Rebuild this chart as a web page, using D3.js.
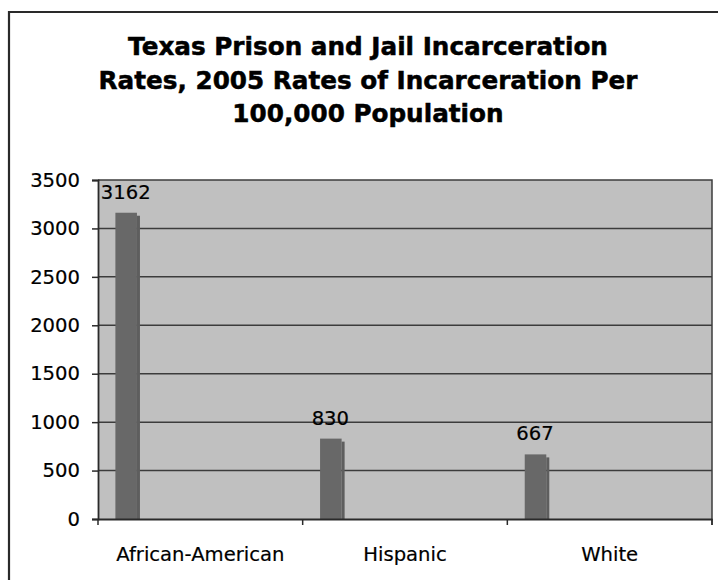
<!DOCTYPE html>
<html>
<head>
<meta charset="utf-8">
<script src="https://cdn.jsdelivr.net/npm/d3@7"></script>
<style>
  html, body { margin: 0; padding: 0; background: #fff; }
  svg { display: block; font-family: "DejaVu Sans", Verdana, sans-serif; }
</style>
</head>
<body>
<svg id="chart" width="718" height="580"></svg>
<script>
const titleLines = ["Texas Prison and Jail Incarceration", "Rates, 2005 Rates of Incarceration Per", "100,000 Population"];
const categories = ["African-American", "Hispanic", "White"];
const rates = [3162, 830, 667];
const yTicks = [0, 500, 1000, 1500, 2000, 2500, 3000, 3500];

const svg = d3.select("#chart");
const plot = { left: 98, right: 712, top: 180, bottom: 519 };

// outer frame (left and top edges visible)
svg.append("path")
  .attr("d", "M9,590 L9,12 L730,12")
  .attr("fill", "none").attr("stroke", "#2a2a2a").attr("stroke-width", 2.2);

// title
svg.append("text")
  .attr("x", 368).attr("y", 55)
  .attr("text-anchor", "middle")
  .attr("font-weight", "bold").attr("font-size", 24.7).attr("fill", "#000")
  .attr("stroke", "#000").attr("stroke-width", 0.5)
  .selectAll("tspan").data(titleLines).join("tspan")
  .attr("x", 368).attr("dy", (d, i) => i === 0 ? 0 : 33.5)
  .text(d => d);

const x = d3.scaleBand().domain(categories).range([plot.left, plot.right]);
const y = d3.scaleLinear().domain([0, 3500]).range([plot.bottom, plot.top]);

// plot area
svg.append("rect")
  .attr("x", plot.left).attr("y", plot.top)
  .attr("width", plot.right - plot.left).attr("height", plot.bottom - plot.top)
  .attr("fill", "#c0c0c0");

// gridlines
svg.append("g").selectAll("line").data(yTicks.filter(t => t > 0 && t < 3500)).join("line")
  .attr("x1", plot.left).attr("x2", plot.right)
  .attr("y1", d => y(d)).attr("y2", d => y(d))
  .attr("stroke", "#3c3c3c").attr("stroke-width", 1.5);

// plot border (top, right)
svg.append("path")
  .attr("d", `M${plot.left},${plot.top} L${plot.right},${plot.top} L${plot.right},${plot.bottom + 6}`)
  .attr("fill", "none").attr("stroke", "#3c3c3c").attr("stroke-width", 1.5);

// bars
const bw = x.bandwidth();
const barX = c => x(c) + bw * 0.085;
const barW = bw * 0.12;
const bars = svg.append("g");
bars.selectAll("rect.main").data(categories).join("rect")
  .attr("class", "main")
  .attr("x", c => barX(c)).attr("y", (c, i) => y(rates[i]))
  .attr("width", barW - 3).attr("height", (c, i) => y(0) - y(rates[i]))
  .attr("fill", "#686868");
bars.selectAll("rect.side").data(categories).join("rect")
  .attr("class", "side")
  .attr("x", c => barX(c) + barW - 3).attr("y", (c, i) => y(rates[i]) + 3)
  .attr("width", 3).attr("height", (c, i) => y(0) - y(rates[i]) - 3)
  .attr("fill", "#5e5e5e");

// data labels
svg.append("g").selectAll("text").data(categories).join("text")
  .attr("x", c => barX(c) + barW / 2 - 2)
  .attr("y", (c, i) => y(rates[i]) - 14)
  .attr("text-anchor", "middle").attr("font-size", 19.6).attr("fill", "#000")
  .attr("stroke", "#000").attr("stroke-width", 0.2)
  .text((c, i) => rates[i]);

// y axis
const yAxis = svg.append("g")
  .attr("transform", `translate(${plot.left},0)`)
  .call(d3.axisLeft(y).tickValues(yTicks).tickSize(6).tickPadding(12).tickFormat(d3.format("d")));
yAxis.select(".domain").attr("stroke", "#2a2a2a").attr("stroke-width", 1.8);
yAxis.selectAll(".tick line").attr("stroke", "#2a2a2a").attr("stroke-width", 1.5);
yAxis.selectAll(".tick text").attr("font-size", 19.6).attr("fill", "#000")
  .attr("stroke", "#000").attr("stroke-width", 0.2)
  .attr("font-family", "DejaVu Sans, Verdana, sans-serif");

// x axis
const xAxis = svg.append("g")
  .attr("transform", `translate(0,${plot.bottom})`)
  .call(d3.axisBottom(x).tickSize(0).tickPadding(28));
xAxis.select(".domain").attr("stroke", "#2a2a2a").attr("stroke-width", 1.8);
xAxis.selectAll(".tick text").attr("font-size", 19.6).attr("fill", "#000")
  .attr("stroke", "#000").attr("stroke-width", 0.2)
  .attr("font-family", "DejaVu Sans, Verdana, sans-serif");

// category boundary ticks
const bounds = categories.map(c => x(c)).concat([plot.right]);
svg.append("g").selectAll("line").data(bounds).join("line")
  .attr("x1", d => d).attr("x2", d => d)
  .attr("y1", plot.bottom).attr("y2", plot.bottom + 6)
  .attr("stroke", "#2a2a2a").attr("stroke-width", 1.5);
</script>
</body>
</html>
